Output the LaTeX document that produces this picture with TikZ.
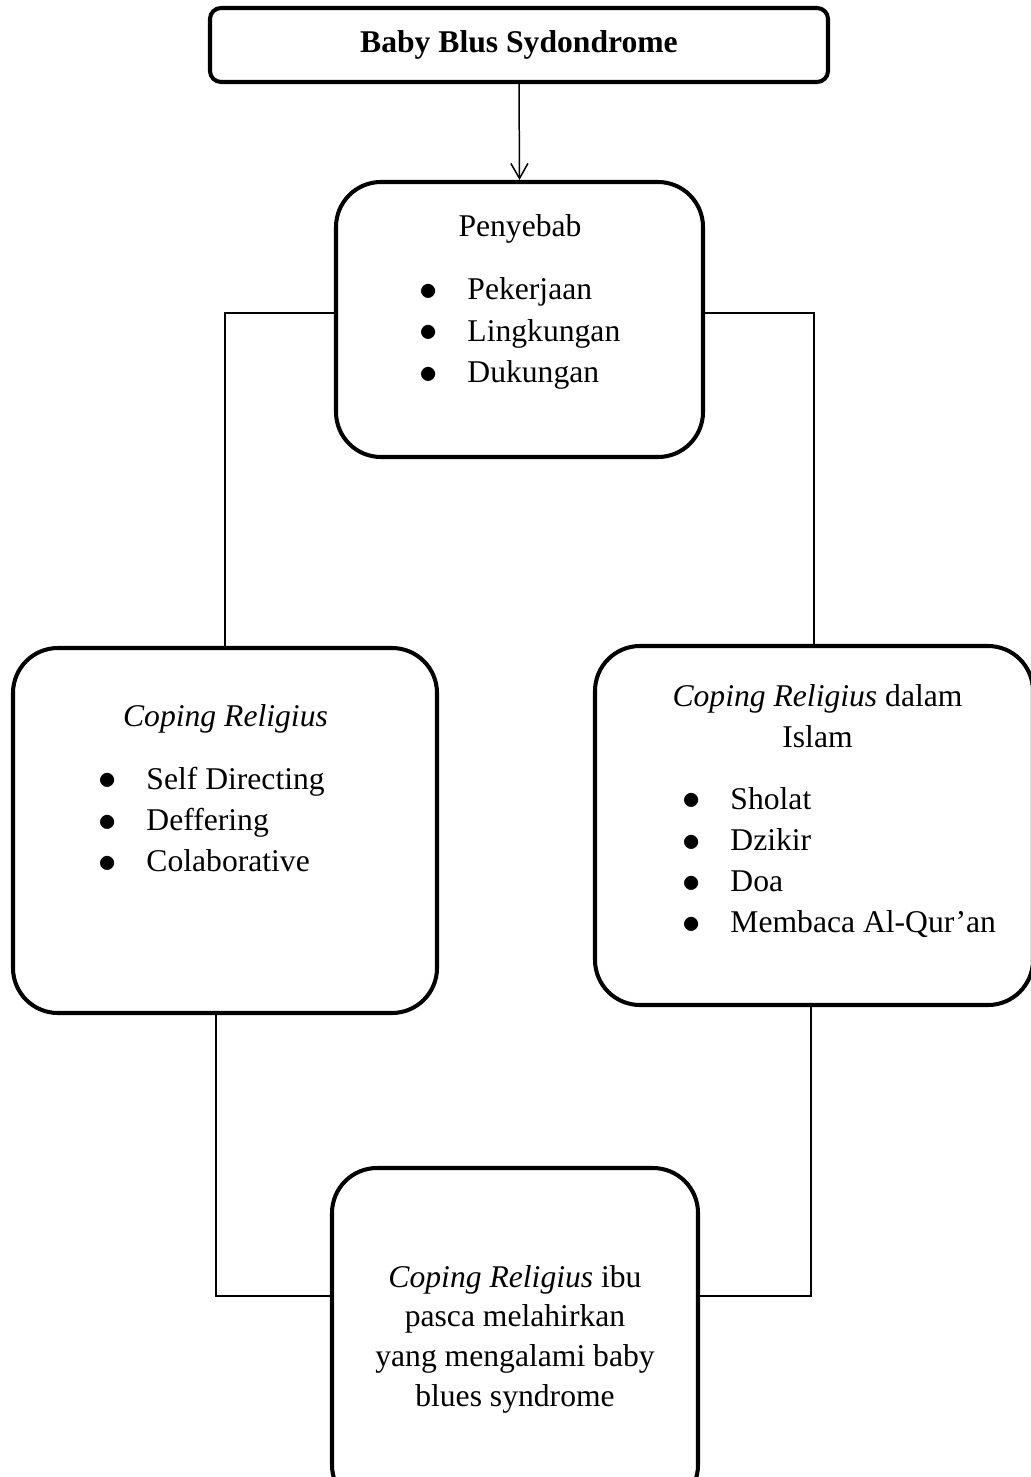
\documentclass[tikz,border=0pt]{standalone}
\usepackage{fontspec}
\setmainfont{Liberation Serif}
\usetikzlibrary{arrows.meta, positioning}
\tikzset{
  every picture/.style={font=\fontsize{18}{23.5}\selectfont},
  box/.style={draw, line width=2.3pt, rounded corners=0.9cm, inner sep=0pt},
  arrow/.style={-{Straight Barb[length=3mm, width=3.4mm]}, line width=0.85pt},
  link/.style={line width=0.85pt},
  txt/.style={inner sep=0pt, anchor=base},
  pts/.style={inner sep=0pt, anchor=base west},
}
\newcommand{\bul}{\raisebox{-0.4pt}{\fontsize{20}{20}\selectfont$\bullet$}}
\newcommand{\itemrows}[1]{\begin{tabular}[t]{@{}l@{\hspace{17pt}}l@{}}#1\end{tabular}}
\newcommand{\textrows}[1]{\begin{tabular}[t]{@{}c@{}}#1\end{tabular}}

\begin{document}
\begin{tikzpicture}
  \useasboundingbox (0,0) rectangle (20.6,-29.54);
  \node[box, rounded corners=0.22cm, minimum width=12.36cm, minimum height=1.48cm, font=\fontsize{18}{23.5}\selectfont\bfseries] (top) at (10.38,-0.9) {Baby Blus Sydondrome};
  \node[box, minimum width=7.34cm, minimum height=5.5cm] (cause) at (10.39,-6.39) {};
  \node[box, minimum width=8.48cm, minimum height=7.3cm] (left) at (4.5,-16.61) {};
  \node[box, minimum width=8.76cm, minimum height=7.18cm] (right) at (16.28,-16.51) {};
  \node[box, minimum width=7.32cm, minimum height=6.84cm] (bottom) at (10.3,-26.78) {};

  \node[txt] (causehead) at (10.4,-4.74) {Penyebab};
  \node[pts] (causelist) at (8.38,-6.0) {\itemrows{\bul & Pekerjaan\\ \bul & Lingkungan\\ \bul & Dukungan}};
  \node[txt] (lefthead) at (4.51,-14.52) {\textit{Coping Religius}};
  \node[pts] (leftlist) at (1.96,-15.78) {\itemrows{\bul & Self Directing\\ \bul & Deffering\\ \bul & Colaborative}};
  \node[txt] (righthead) at (16.35,-14.12) {\textrows{\textit{Coping Religius} dalam\\ Islam}};
  \node[pts] (rightlist) at (13.64,-16.18) {\itemrows{\bul & Sholat\\ \bul & Dzikir\\ \bul & Doa\\ \bul & Membaca Al-Qur’an}};
  \node[txt, font=\fontsize{18}{22.7}\selectfont] (bottomtext) at (10.3,-25.74) {\textrows{\textit{Coping Religius} ibu\\ pasca melahirkan\\ yang mengalami baby\\ blues syndrome}};

  \draw[arrow] (top.south) -- (cause.north);
  \draw[link] ([yshift=0.13cm]cause.west) -| (left.north);
  \draw[link] ([yshift=0.13cm]cause.east) -| (right.north);
  \draw[link] ([xshift=-0.18cm]left.south) |- ([yshift=0.86cm]bottom.west);
  \draw[link] ([xshift=-0.06cm]right.south) |- ([yshift=0.86cm]bottom.east);
\end{tikzpicture}
\end{document}
